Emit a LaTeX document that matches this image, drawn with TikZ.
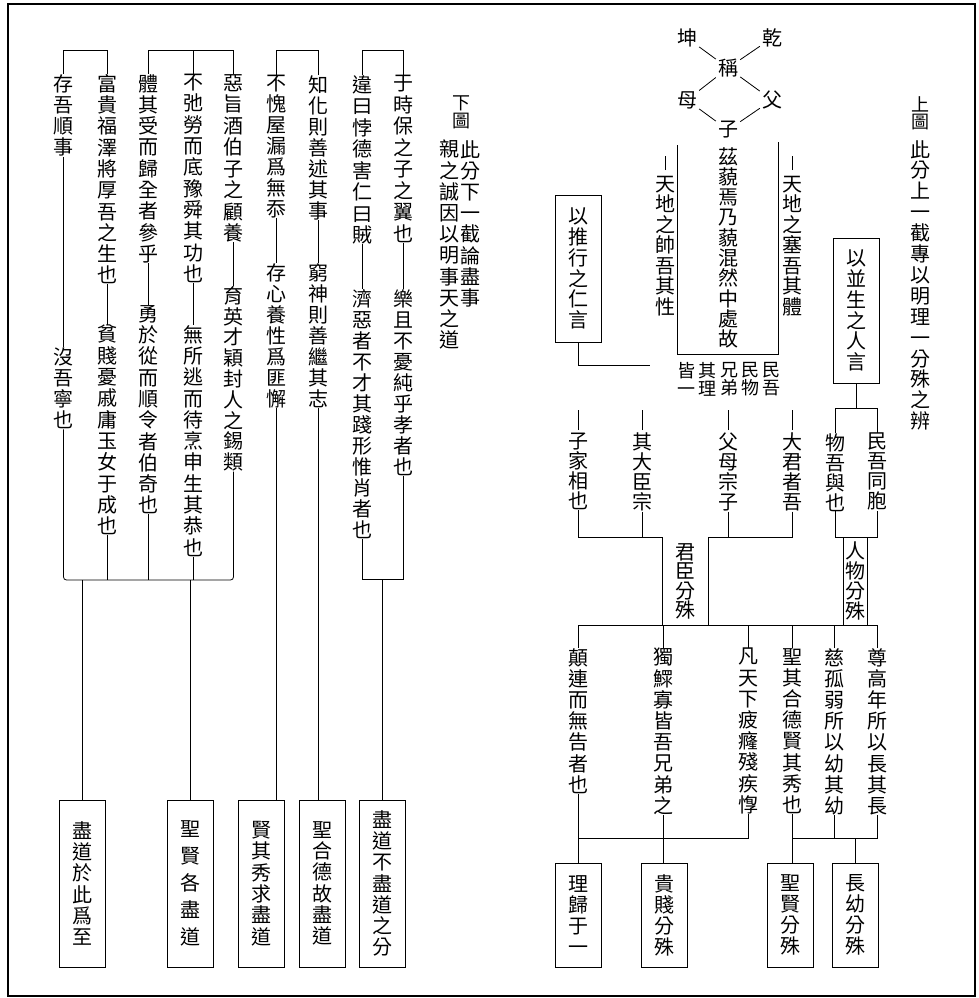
\documentclass[tikz,border=0pt]{standalone}
\usepackage{fontspec}
\newfontfamily\cjk{Noto Sans CJK TC}
\usetikzlibrary{positioning,calc}

% one character per line
\def\vtend{vt-end-marker}
\def\vtloop#1{\ifx#1\vtend\else\hbox{#1}\expandafter\vtloop\fi}
\newcommand{\vt}[2][21.3pt]{\vbox{\baselineskip=#1\lineskiplimit=-100pt\lineskip=0pt\expandafter\vtloop#2\vtend}}

\tikzset{
  col/.style={inner sep=0pt, font=\cjk\fontsize{20}{20}\selectfont},
  ttl/.style={inner sep=0pt, font=\cjk\fontsize{18}{18}\selectfont},
  tag/.style={col, draw, line width=1pt, minimum width=46pt},
  link/.style={line width=0.8pt},
}

\begin{document}
\begin{tikzpicture}[x=1pt,y=-1pt]
    \useasboundingbox (0,0) rectangle (978,998);
    \draw[line width=1.2pt] (8,4) rectangle (975,996);

    % ---- upper chart (right half)
    \node[ttl,anchor=north] (tup) at (920,96) {\vt[17.5pt]{上圖}};
    \node[col,anchor=north] (tupb) at (920,140) {\vt[20.9pt]{此分上一截專以明理一分殊之辨}};

    \node[col,inner sep=2pt] (kun) at (687,38) {坤};
    \node[col,inner sep=2pt] (qian) at (772,38) {乾};
    \node[col,inner sep=2pt] (cheng) at (728,68) {稱};
    \node[col,inner sep=2pt] (mu) at (687,100) {母};
    \node[col,inner sep=2pt] (fu) at (772,100) {父};
    \node[col,inner sep=2pt] (zi) at (728,130) {子};
    \draw[link] (kun) -- (cheng);
    \draw[link] (qian) -- (cheng);
    \draw[link] (cheng) -- (mu);
    \draw[link] (cheng) -- (fu);
    \draw[link] (mu) -- (zi);
    \draw[link] (fu) -- (zi);

    \node[col,anchor=north] (zimiao) at (728,147) {\vt[20.3pt]{茲藐焉乃藐混然中處故}};
    \coordinate (ul) at (677,145);
    \coordinate (ur) at (778,142);
    \draw[link] (ul) |- (ur |- 0,354) -- (ur);
    \node[col,anchor=north] (shuai) at (665,176) {\vt[20.5pt]{天地之帥吾其性}};
    \node[col,anchor=north] (sai) at (792,176) {\vt[20.5pt]{天地之塞吾其體}};
    \draw[link] ([yshift=6pt]shuai.north) -- ++(0,-14);
    \draw[link] ([yshift=6pt]sai.north) -- ++(0,-14);

    \foreach \nm/\x/\txt in {mw/771/民吾, mwu/750/民物, xd/729/兄弟, ql/707/其理, jy/686/皆一}
        \node[col,font=\cjk\fontsize{18}{18}\selectfont,anchor=north] (\nm) at (\x,362) {\vt[18pt]{\txt}};

    \node[tag,minimum height=147pt] (tuixing) at (578.5,268.5) {\vt[20.8pt]{以推行之仁言}};
    \coordinate (tx) at (650,365);
    \draw[link] (tuixing.south) |- (tx);
    \node[tag,minimum height=145pt] (bingsheng) at (856.5,310.5) {\vt[20.8pt]{以並生之人言}};

    % first row
    \foreach \nm/\x/\txt in {zj/578/子家相也, qd/642/其大臣宗, fm/728/父母宗子, dj/792/大君者吾, wy/835/物吾與也, mt/877/民吾同胞}
        \node[col,anchor=north] (\nm) at (\x,433) {\vt[20pt]{\txt}};
    \foreach \nm in {zj,qd,fm,dj}
        \draw[link] ([yshift=3pt]\nm.north) -- ++(0,-20);
    \draw[link] (bingsheng.south) -- ++(0,25) coordinate (bs);
    \draw[link] (wy.north) |- (bs) -| (mt.north);

    \coordinate (jl) at (662,537);
    \coordinate (jr) at (708,537);
    \coordinate (ll) at (0,625);
    \draw[link] (zj.south) |- (jl) -- (jl |- ll);
    \draw[link] (qd.south) -- (qd.south |- jl);
    \draw[link] (dj.south) |- (jr) -- (jr |- ll);
    \draw[link] (fm.south) -- (fm.south |- jr);
    \node[col,anchor=north] (junchen) at (685,543) {\vt[19.5pt]{君臣分殊}};

    \draw[link] (wy.south) |- (mt.south |- jl) -- (mt.south);
    \node[col,anchor=north] (renwu) at (855.5,542) {\vt[20pt]{人物分殊}};
    \draw[link] ([xshift=-1.5pt]renwu.west |- jl) -- ([xshift=-1.5pt]renwu.west |- ll);
    \draw[link] ([xshift=1.5pt]renwu.east |- jl) -- ([xshift=1.5pt]renwu.east |- ll);

    % second row
    \foreach \nm/\x/\txt in {dl/578/顛連而無告者也, dg/663/獨鰥寡皆吾兄弟之, ft/748/凡天下疲癃殘疾惸, sq/792/聖其合德賢其秀也, cg/834/慈孤弱所以幼其幼, zg/877/尊高年所以長其長} {
        \node[col,anchor=north] (\nm) at (\x,648) {\vt[21.2pt]{\txt}};
        \draw[link] (\nm.north) -- (\nm.north |- ll);
    }
    \draw[link] (dl.north |- ll) -- (zg.north |- ll);

    \coordinate (bl) at (0,838);
    \draw[link] (ft.south) |- (dl.south |- bl);
    \draw[link] (dg.south) -- (dg.south |- bl);
    \draw[link] (zg.south) |- (sq.south |- bl);
    \draw[link] (cg.south) -- (cg.south |- bl);

    \node[tag,minimum height=104pt] (lgy) at (578.5,915) {\vt[21pt]{理歸于一}};
    \node[tag,minimum height=104pt] (gj) at (664.5,915) {\vt[21pt]{貴賤分殊}};
    \node[tag,minimum height=104pt] (sx) at (790.5,915) {\vt[21pt]{聖賢分殊}};
    \node[tag,minimum height=104pt] (zy) at (855,915) {\vt[21pt]{長幼分殊}};
    \draw[link] (dl.south) -- (dl.south |- lgy.north);
    \draw[link] (dg.south) -- (dg.south |- gj.north);
    \draw[link] (sq.south) -- (sq.south |- sx.north);
    \draw[link] (zy.north |- bl) -- (zy.north);

    % ---- lower chart (left half)
    \node[ttl,anchor=north] (tdown) at (461,96) {\vt[17.5pt]{下圖}};
    \node[col,anchor=north] (tdowna) at (470,140) {\vt[21.2pt]{此分下一截論盡事}};
    \node[col,anchor=north] (tdownb) at (449,140) {\vt[21.2pt]{親之誠因以明事天之道}};

    \coordinate (ta) at (0,50);
    \coordinate (ba) at (0,579);
    \coordinate (bc) at (0,580);

    % pairs: first half, second half
    \node[col,anchor=north] (yushi) at (403.5,75) {\vt[21.5pt]{于時保之子之翼也}};
    \node[col,anchor=north] (leqie) at (403.5,289) {\vt[21pt]{樂且不憂純乎孝者也}};
    \node[col,anchor=north] (weiyue) at (362.5,75) {\vt[21.5pt]{違曰悖德害仁曰賊}};
    \node[col,anchor=north] (jie) at (362.5,289) {\vt[21pt]{濟惡者不才其踐形惟肖者也}};

    \node[col,anchor=north] (zhihua) at (318.5,75) {\vt[21pt]{知化則善述其事}};
    \node[col,anchor=north] (qiong) at (318.5,263) {\vt[21pt]{窮神則善繼其志}};
    \node[col,anchor=north] (bukui) at (276.5,75) {\vt[21pt]{不愧屋漏爲無忝}};
    \node[col,anchor=north] (cunxin) at (276.5,263) {\vt[21pt]{存心養性爲匪懈}};

    \node[col,anchor=north] (ezhi) at (233.5,74) {\vt[21.5pt]{惡旨酒伯子之顧養}};
    \node[col,anchor=north] (yuying) at (233.5,286) {\vt[20.8pt]{育英才穎封人之錫類}};
    \node[col,anchor=north] (buchi) at (193,74) {\vt[21.3pt]{不弛勞而底豫舜其功也}};
    \node[col,anchor=north] (wusuo) at (193,325) {\vt[21.3pt]{無所逃而待烹申生其恭也}};
    \node[col,anchor=north] (tiqi) at (148.5,74) {\vt[21.3pt]{體其受而歸全者參乎}};
    \node[col,anchor=north] (yong) at (148.5,305) {\vt[21.3pt]{勇於從而順令者伯奇也}};

    \node[col,anchor=north] (fugui) at (107,74) {\vt[21.3pt]{富貴福澤將厚吾之生也}};
    \node[col,anchor=north] (pinjian) at (107,325) {\vt[21.3pt]{貧賤憂戚庸玉女于成也}};
    \node[col,anchor=north] (cunwu) at (63.5,74) {\vt[21.3pt]{存吾順事}};
    \node[col,anchor=north] (mowu) at (63.5,347) {\vt[21.3pt]{沒吾寧也}};

    % top brackets
    \draw[link] (yushi.north) |- (ta -| weiyue.north) -- (weiyue.north);
    \draw[link] (zhihua.north) |- (ta -| bukui.north) -- (bukui.north);
    \draw[link] (ezhi.north) |- (ta -| tiqi.north) -- (tiqi.north);
    \draw[link] (buchi.north) -- (buchi.north |- ta);
    \draw[link] (fugui.north) |- (ta -| cunwu.north) -- (cunwu.north);

    % between halves
    \draw[link] (yushi.south) -- (leqie.north);
    \draw[link] (weiyue.south) -- (jie.north);
    \draw[link] (zhihua.south) -- (qiong.north);
    \draw[link] (bukui.south) -- (cunxin.north);
    \draw[link] (ezhi.south) -- (yuying.north);
    \draw[link] (buchi.south) -- (wusuo.north);
    \draw[link] (tiqi.south) -- (yong.north);
    \draw[link] (fugui.south) -- (pinjian.north);
    \draw[link] (cunwu.south) -- (mowu.north);

    % boxes
    \node[tag,minimum height=167pt] (jdb) at (382.5,883.5) {\vt[21.3pt]{盡道不盡道之分}};
    \node[tag,minimum height=167pt] (hede) at (322,883.5) {\vt[21.3pt]{聖合德故盡道}};
    \node[tag,minimum height=167pt] (xianqi) at (261.5,883.5) {\vt[21.3pt]{賢其秀求盡道}};
    \node[tag,minimum height=167pt] (sxgj) at (190,883.5) {\vt[27pt]{聖賢各盡道}};
    \node[tag,minimum height=167pt] (jdzz) at (82.5,883.5) {\vt[21.3pt]{盡道於此爲至}};

    % bottom brackets
    \draw[link] (leqie.south) |- (ba -| jie.south) -- (jie.south);
    \draw[link] (ba -| jdb.north) -- (jdb.north);
    \draw[link] (qiong.south) -- (qiong.south |- hede.north);
    \draw[link] (cunxin.south) -- (cunxin.south |- xianqi.north);
    \draw[link,rounded corners=3pt] (yuying.south) |- (bc -| mowu.south) -- (mowu.south);
    \draw[link] (wusuo.south) -- (wusuo.south |- bc);
    \draw[link] (yong.south) -- (yong.south |- bc);
    \draw[link] (pinjian.south) -- (pinjian.south |- bc);
    \draw[link] (bc -| sxgj.north) -- (sxgj.north);
    \draw[link] (bc -| jdzz.north) -- (jdzz.north);
\end{tikzpicture}
\end{document}
